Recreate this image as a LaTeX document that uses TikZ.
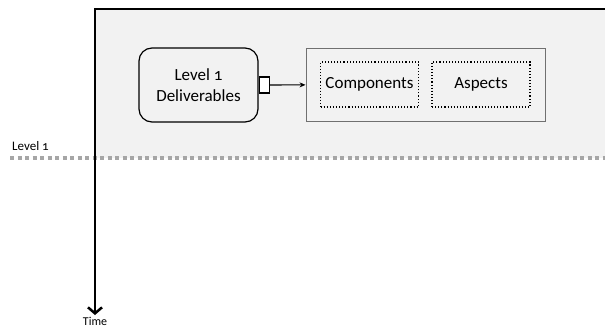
\documentclass[tikz,border=0pt]{standalone}
\usepackage{fontspec}
\setmainfont[Numbers=OldStyle]{Carlito}
\usepackage{tikz}
\usetikzlibrary{arrows.meta,positioning}
\usepackage{xcolor}
\definecolor{panel}{HTML}{F2F2F2}
\definecolor{levelline}{HTML}{A6A6A6}
\definecolor{framegray}{HTML}{707070}

\tikzset{
  deliv/.style={draw,line width=1.2pt,rounded corners=13pt,minimum width=119pt,minimum height=74pt,align=center,font=\fontsize{17}{21}\selectfont},
  part/.style={draw,dotted,line width=1.1pt,minimum width=98pt,minimum height=45pt,inner sep=1pt,font=\fontsize{17}{20}\selectfont},
  port/.style={draw,line width=1.1pt,fill=white,minimum width=10pt,minimum height=16pt,inner sep=0pt}
}

\begin{document}
\begin{tikzpicture}[x=1pt,y=-1pt]
\useasboundingbox (0,0) rectangle (605,330);
\fill[panel] (95,9) rectangle (605,158);
\draw[line width=4pt,levelline,dash pattern=on 4pt off 3.5pt] (10,158)--(605,158);
\node[anchor=south west,inner sep=0pt,font=\fontsize{13}{15}\selectfont] (lvl) at (12,151) {Level 1};
\draw[line width=2.5pt] (95,9)--(605,9);
\coordinate (top) at (95,8);
\node[anchor=north,inner sep=0pt,font=\fontsize{12}{14}\selectfont] (time) at (95,317) {Time};
\draw[line width=2.5pt,-{Straight Barb[length=6pt,width=14pt,line width=2.5pt]}] (top)--([yshift=2pt]time.north);
\node[deliv] (deliverables) at (198.5,85) {Level 1\\Deliverables};
\node[port,anchor=west] (out) at (deliverables.east) {};
\node[draw=framegray,line width=0.9pt,fill=panel,minimum width=239pt,minimum height=73pt] (group) at (425.5,84.5) {};
\node[part] (components) at (369.5,84.5) {Components};
\node[part] (aspects) at (481,84.5) {Aspects};
\draw[line width=1.1pt,-{Stealth[length=6pt,width=5pt]}] (out)--(group);
\end{tikzpicture}
\end{document}
